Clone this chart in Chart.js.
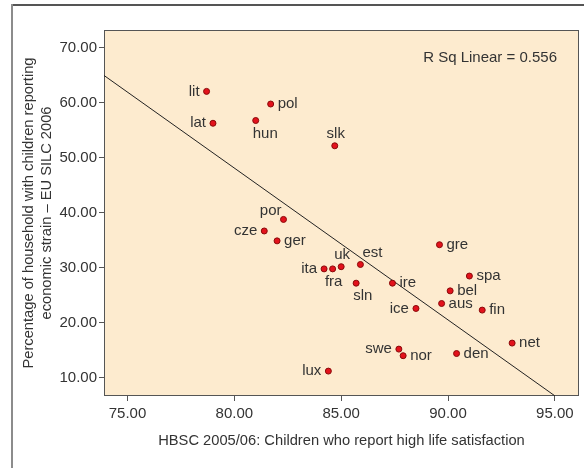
<!DOCTYPE html>
<html>
<head>
<meta charset="utf-8">
<script src="https://cdn.jsdelivr.net/npm/chart.js@4"></script>
<style>
  html, body { margin: 0; padding: 0; background: #fff; }
  #wrap { width: 584px; height: 468px; }
</style>
</head>
<body>
<div id="wrap"><canvas id="chart" width="584" height="468"></canvas></div>
<script>
// data
const countries = ['lit', 'pol', 'lat', 'hun', 'slk', 'por', 'cze', 'ger', 'gre', 'ita', 'fra', 'uk', 'est',
  'sln', 'ire', 'spa', 'bel', 'aus', 'ice', 'fin', 'net', 'swe', 'nor', 'den', 'lux'];
const lifeSatisfaction = [78.7, 81.7, 79.0, 81.0, 84.7, 82.3, 81.4, 82.0, 89.6, 84.2, 84.6, 85.0, 85.9,
  85.7, 87.4, 91.0, 90.1, 89.7, 88.5, 91.6, 93.0, 87.7, 87.9, 90.4, 84.4];
const economicStrain = [62.1, 59.8, 56.3, 56.8, 52.2, 38.8, 36.7, 34.9, 34.2, 29.8, 29.8, 30.2, 30.6,
  27.2, 27.2, 28.5, 25.8, 23.5, 22.6, 22.3, 16.3, 15.2, 14.0, 14.4, 11.2];
// where each country label sits relative to its dot
const labelSide = ['L', 'R', 'L', 'BR', 'A', 'AL', 'L', 'R', 'R', 'L', 'B', 'A', 'AR',
  'BR', 'R', 'R', 'R', 'R', 'L', 'R', 'R', 'L', 'R', 'R', 'L'];
// linear fit line endpoints
const fitX = [73.9, 95.0];
const fitY = [65.0, 6.7];
const xTicks = [75, 80, 85, 90, 95];
const yTicks = [10, 20, 30, 40, 50, 60, 70];
const rSqText = 'R Sq Linear = 0.556';

const FONT = "'Liberation Sans', Arial, Helvetica, sans-serif";
const TEXT = '#333333';

const sideStyle = {
  L:  { align: 'right',  dx: -7, dy: 0 },
  R:  { align: 'left',   dx: 7,  dy: 0 },
  A:  { align: 'center', dx: 1,  dy: -12 },
  AR: { align: 'left',   dx: 2,  dy: -12 },
  AL: { align: 'right',  dx: -2, dy: -9 },
  B:  { align: 'center', dx: 1,  dy: 13 },
  BR: { align: 'left',   dx: -3, dy: 13 }
};

const decorPlugin = {
  id: 'decor',
  beforeDraw(chart) {
    const ctx = chart.ctx;
    const a = chart.chartArea;
    ctx.save();
    ctx.fillStyle = '#ffffff';
    ctx.fillRect(0, 0, chart.width, chart.height);
    // outer frame
    ctx.fillStyle = '#555555';
    ctx.fillRect(11, 4, chart.width - 11, 2);
    ctx.fillStyle = '#8c8c8c';
    ctx.fillRect(11, 4, 2, chart.height - 4);
    // plot background
    ctx.fillStyle = '#fdebcf';
    ctx.fillRect(a.left, a.top, a.right - a.left, a.bottom - a.top);
    ctx.strokeStyle = '#555555';
    ctx.lineWidth = 1;
    ctx.strokeRect(a.left + 0.5, a.top + 0.5, a.right - a.left - 1, a.bottom - a.top - 1);
    ctx.restore();
  },
  afterDatasetsDraw(chart) {
    const ctx = chart.ctx;
    const meta = chart.getDatasetMeta(1);
    ctx.save();
    ctx.font = '15px ' + FONT;
    ctx.fillStyle = TEXT;
    ctx.textBaseline = 'middle';
    meta.data.forEach((pt, i) => {
      const s = sideStyle[labelSide[i]];
      ctx.textAlign = s.align;
      ctx.fillText(countries[i], pt.x + s.dx, pt.y + s.dy);
    });
    ctx.textAlign = 'right';
    ctx.fillText(rSqText, chart.chartArea.right - 22, chart.chartArea.top + 28);
    ctx.restore();
  }
};

new Chart(document.getElementById('chart').getContext('2d'), {
  type: 'scatter',
  data: {
    datasets: [
      {
        type: 'line',
        data: fitX.map((x, i) => ({ x: x, y: fitY[i] })),
        borderColor: '#222222',
        borderWidth: 1,
        pointRadius: 0,
        fill: false,
        order: 2
      },
      {
        data: lifeSatisfaction.map((x, i) => ({ x: x, y: economicStrain[i] })),
        backgroundColor: '#e3121c',
        borderColor: '#8a0a0a',
        borderWidth: 1,
        pointRadius: 3,
        order: 1
      }
    ]
  },
  options: {
    responsive: false,
    animation: false,
    devicePixelRatio: 1,
    layout: { padding: { top: 30, right: 3, left: 0, bottom: 0 } },
    plugins: {
      legend: { display: false },
      tooltip: { enabled: false }
    },
    scales: {
      x: {
        type: 'linear',
        min: 73.9,
        max: 96.13,
        afterBuildTicks: s => { s.ticks = xTicks.map(v => ({ value: v })); },
        afterFit: s => { s.height = 72; },
        border: { display: false },
        grid: { drawOnChartArea: false, drawTicks: true, tickLength: 5, tickColor: '#555555' },
        ticks: {
          font: { family: FONT, size: 15 },
          color: TEXT,
          padding: 4,
          maxRotation: 0,
          autoSkip: false,
          callback: v => v.toFixed(2)
        },
        title: {
          display: true,
          text: 'HBSC 2005/06: Children who report high life satisfaction',
          font: { family: FONT, size: 14.7, lineHeight: 1.22 },
          color: TEXT,
          padding: { top: 0, bottom: 18 }
        }
      },
      y: {
        type: 'linear',
        min: 6.67,
        max: 73.27,
        afterBuildTicks: s => { s.ticks = yTicks.map(v => ({ value: v })); },
        afterFit: s => { s.width = 104; },
        border: { display: false },
        grid: { drawOnChartArea: false, drawTicks: true, tickLength: 5, tickColor: '#555555' },
        ticks: {
          font: { family: FONT, size: 15 },
          color: TEXT,
          padding: 2,
          callback: v => v.toFixed(2)
        },
        title: {
          display: true,
          text: ['Percentage of household with children reporting', 'economic strain \u2013 EU SILC 2006'],
          font: { family: FONT, size: 14.7, lineHeight: 1.22 },
          color: TEXT,
          padding: { top: 20, bottom: 0 }
        }
      }
    }
  },
  plugins: [decorPlugin]
});
</script>
</body>
</html>
